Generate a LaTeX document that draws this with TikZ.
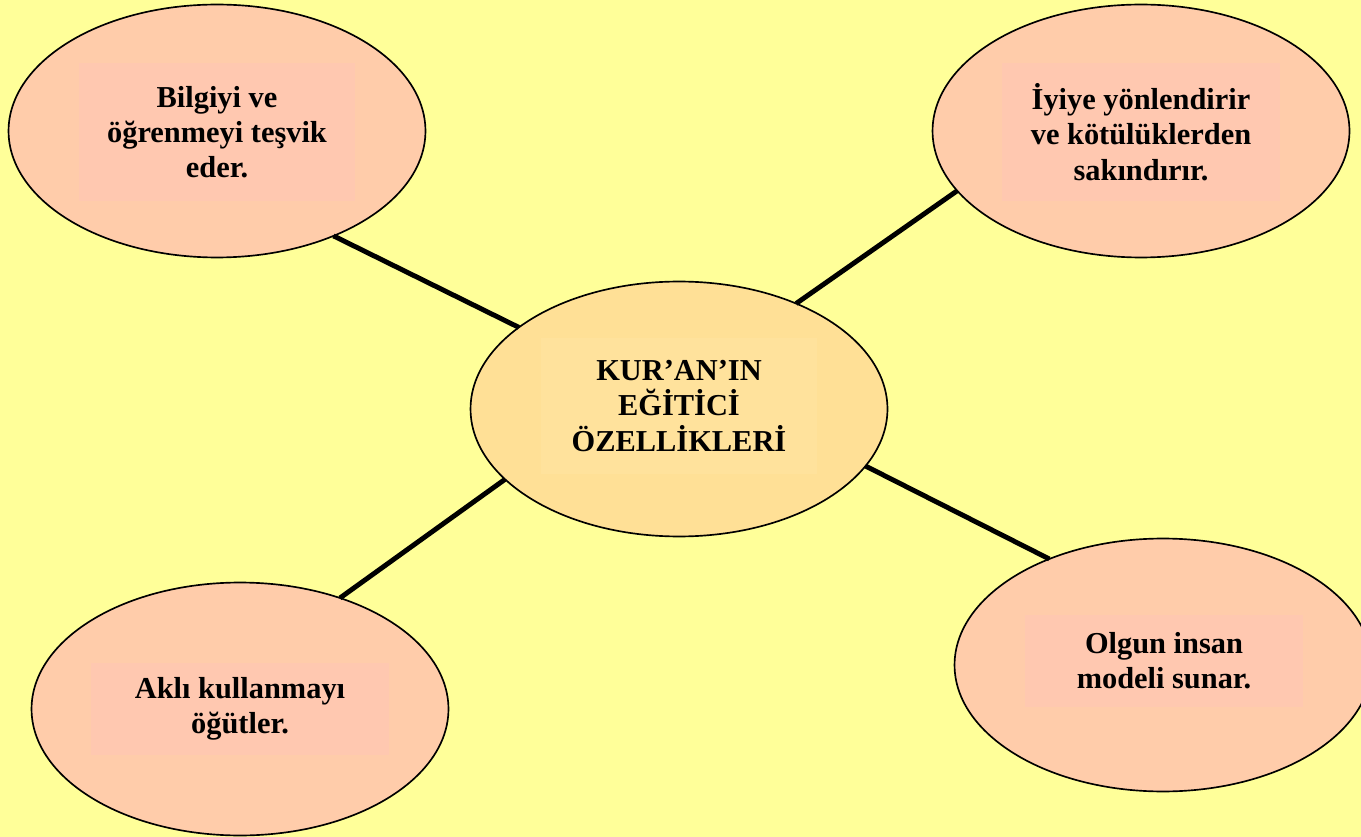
\documentclass[tikz,border=0pt]{standalone}
\usepackage{fontspec}
\setmainfont{Liberation Serif}
\usetikzlibrary{shapes.geometric, positioning}

\definecolor{bgyellow}{RGB}{255,255,153}
\definecolor{peach}{RGB}{255,204,170}
\definecolor{peachbox}{RGB}{255,200,176}
\definecolor{sand}{RGB}{255,224,150}
\definecolor{sandbox}{RGB}{255,226,156}

\begin{document}
\begin{tikzpicture}[
  x=0.02cm, y=-0.02cm,
  oval/.style={draw, ellipse, line width=0.95pt, inner sep=0pt, outer sep=0pt,
               minimum width=8.34cm, minimum height=5.06cm, fill=peach},
  core/.style={oval, fill=sand, minimum height=5.1cm},
  txt/.style={inner sep=0pt, align=center,
              font=\fontsize{17.3}{20.1}\selectfont\bfseries},
  link/.style={line width=2.8pt}
]
  \fill[bgyellow] (0,0) rectangle (1361,837);
  \useasboundingbox (0,0) rectangle (1361,837);

  \node[oval] (Bilgi) at (217,131) {};
  \node[oval] (Iyi)   at (1141,131) {};
  \node[core] (Kuran) at (679,409) {};
  \node[oval] (Akil)  at (240,709) {};
  \node[oval] (Olgun) at (1163,665) {};

  \node[txt, fill=peachbox, minimum width=5.52cm, minimum height=2.78cm]
       (BilgiT) at (217,132) {Bilgiyi ve\\öğrenmeyi teşvik\\eder.};
  \node[txt, fill=peachbox, minimum width=5.56cm, minimum height=2.78cm]
       (IyiT) at (1141,132) {İyiye yönlendirir\\ve kötülüklerden\\sakındırır.};
  \node[txt, fill=sandbox, minimum width=5.54cm, minimum height=2.74cm]
       (KuranT) at (679,406) {KUR’AN’IN\\EĞİTİCİ\\ÖZELLİKLERİ};
  \node[txt, fill=peachbox, minimum width=5.98cm, minimum height=1.84cm]
       (AkilT) at (240,709) {Aklı kullanmayı\\öğütler.};
  \node[txt, fill=peachbox, minimum width=5.56cm, minimum height=1.84cm]
       (OlgunT) at (1164,661) {Olgun insan\\modeli sunar.};

  \draw[link] (Bilgi.-42)  -- (Kuran.153);
  \draw[link] (Iyi.-162)   -- (Kuran.42);
  \draw[link] (Akil.48)    -- (Kuran.-158);
  \draw[link] (Olgun.137)  -- (Kuran.-17);
\end{tikzpicture}
\end{document}
